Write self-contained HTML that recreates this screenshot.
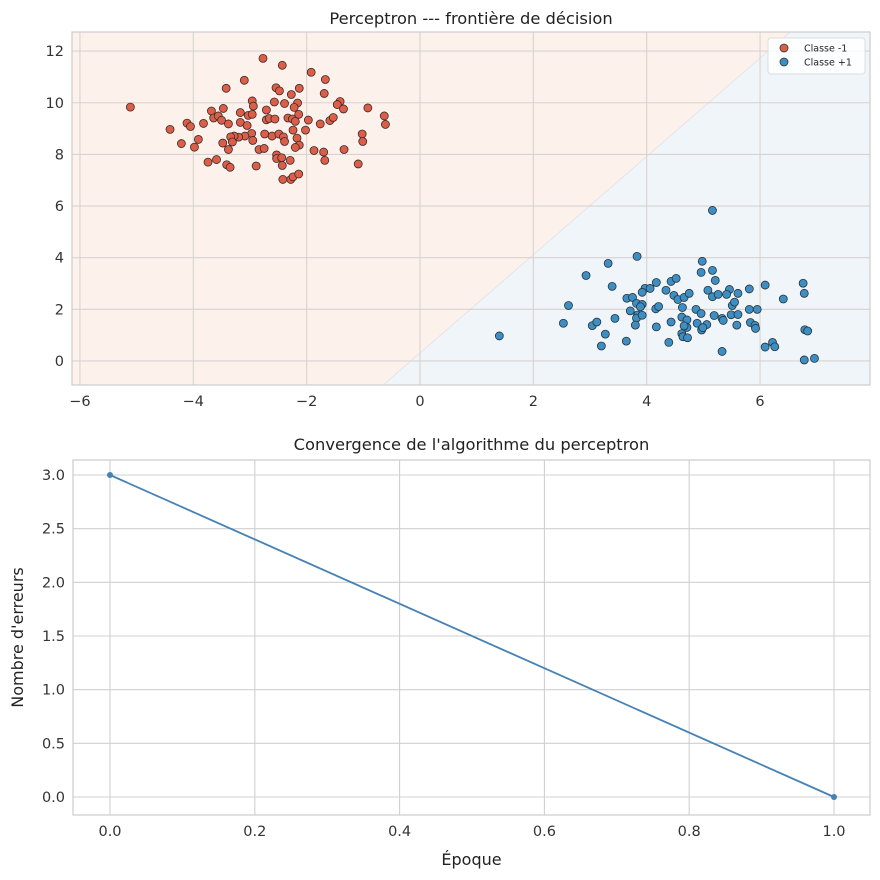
<!DOCTYPE html>
<html><head><meta charset="utf-8"><style>
body{margin:0;background:#fff;}
svg{display:block;font-family:"DejaVu Sans","Liberation Sans",sans-serif;}
</style></head><body>
<svg id="c" width="880" height="880"></svg>
<script>
const redX=[-2.77,-2.43,-1.92,-1.67,-3.10,-3.42,-2.54,-2.48,-2.13,-2.27,-1.69,-2.96,-2.94,-2.57,-2.39,-2.16,-2.22,-1.41,-1.46,-1.35,-0.92,-5.11,-3.68,-3.47,-3.17,-3.03,-2.96,-2.71,-3.64,-3.56,-3.50,-3.38,-3.17,-3.05,-2.71,-2.66,-2.56,-2.33,-2.25,-2.20,-2.14,-1.97,-1.76,-1.59,-1.53,-0.63,-0.61,-4.11,-4.05,-3.82,-4.41,-2.24,-2.02,-2.74,-2.61,-2.49,-2.41,-2.39,-2.17,-2.13,-2.20,-2.97,-2.95,-3.09,-3.20,-3.28,-3.34,-3.31,-3.48,-3.38,-3.91,-4.21,-3.98,-2.84,-2.75,-1.87,-1.70,-1.68,-1.34,-1.02,-1.01,-1.09,-2.53,-2.53,-2.44,-2.29,-2.43,-3.74,-3.59,-3.41,-3.35,-2.89,-2.42,-2.28,-2.24,-2.14];
const redY=[11.72,11.45,11.18,10.9,10.87,10.56,10.58,10.46,10.56,10.32,10.36,10.07,9.87,10.03,9.97,9.99,9.82,10.05,9.93,9.76,9.8,9.83,9.68,9.78,9.62,9.51,9.55,9.72,9.41,9.49,9.32,9.18,9.24,9.12,9.34,9.39,9.37,9.41,9.37,9.28,9.55,9.33,9.18,9.31,9.43,9.49,9.16,9.21,9.08,9.2,8.97,8.94,8.94,8.79,8.71,8.79,8.68,8.5,8.63,8.36,8.27,8.81,8.54,8.71,8.67,8.71,8.68,8.48,8.44,8.19,8.58,8.42,8.28,8.19,8.23,8.15,8.09,7.77,8.19,8.79,8.5,7.63,7.98,7.84,7.87,7.77,7.57,7.7,7.8,7.6,7.5,7.55,7.03,7.03,7.13,7.24];
const blueX=[5.16,3.83,3.32,2.93,4.98,4.96,5.16,5.21,3.39,3.97,4.06,4.17,4.43,4.52,4.34,3.92,3.65,3.75,4.48,4.55,4.66,4.75,5.08,5.16,5.26,5.46,5.41,5.61,5.81,6.09,6.41,6.76,6.78,2.62,3.82,3.92,3.89,3.71,4.16,4.21,4.63,4.87,4.96,5.51,5.55,5.81,5.95,5.49,5.61,5.19,5.33,5.35,2.53,3.04,3.12,3.44,3.84,3.82,3.92,3.80,4.17,4.43,4.62,4.71,4.71,4.66,4.89,5.06,4.97,4.99,4.62,4.64,4.72,5.59,5.83,5.91,5.92,3.27,3.64,3.20,4.39,5.33,6.09,6.22,6.26,6.79,6.84,6.78,6.96,1.40];
const blueY=[5.83,4.05,3.78,3.31,3.86,3.43,3.51,3.12,2.89,2.81,2.81,3.04,3.08,3.2,2.74,2.66,2.43,2.46,2.54,2.38,2.46,2.62,2.74,2.49,2.58,2.77,2.58,2.62,2.79,2.94,2.4,3.01,2.62,2.15,2.23,2.19,2.1,1.94,2.02,2.11,2.07,2.0,1.84,2.15,2.28,2.0,2.0,1.79,1.8,1.76,1.65,1.57,1.46,1.37,1.51,1.65,1.78,1.66,1.77,1.39,1.32,1.51,1.7,1.59,1.3,1.36,1.46,1.41,1.2,1.29,1.06,0.94,0.9,1.39,1.49,1.38,1.26,1.04,0.77,0.58,0.72,0.37,0.54,0.72,0.55,1.21,1.16,0.04,0.1,0.97];
const boundaryX=[-0.65,6.53];
const boundaryY=[-0.93,12.74];
const topXTicks=[-6,-4,-2,0,2,4,6];
const topYTicks=[0,2,4,6,8,10,12];
const epochs=[0,1];
const errors=[3,0];
const botXTicks=[0,0.2,0.4,0.6,0.8,1.0];
const botYTicks=[0,0.5,1.0,1.5,2.0,2.5,3.0];

const NS="http://www.w3.org/2000/svg";
const svg=document.getElementById('c');
function el(tag,attrs,parent,text){const e=document.createElementNS(NS,tag);for(const k in attrs)e.setAttribute(k,attrs[k]);if(text!==undefined)e.textContent=text;(parent||svg).appendChild(e);return e;}

const T={l:72,r:870,t:32,b:385,x0:-6.14,x1:7.94,y0:-0.93,y1:12.74};
const tx=v=>T.l+(v-T.x0)/(T.x1-T.x0)*(T.r-T.l);
const ty=v=>T.b-(v-T.y0)/(T.y1-T.y0)*(T.b-T.t);
const gTop=el('g',{});


let bg=el('rect',{x:T.l,y:T.t,width:T.r-T.l,height:T.b-T.t,fill:'#f0f5fa'},gTop);


const slope=(boundaryY[1]-boundaryY[0])/(boundaryX[1]-boundaryX[0]);
const xAt=y=>boundaryX[0]+(y-boundaryY[0])/slope;
let pts=[[T.x0,T.y0],[xAt(T.y0),T.y0],[xAt(T.y1),T.y1],[T.x0,T.y1]].map(p=>tx(p[0])+','+ty(p[1])).join(' ');
let rr=el('polygon',{points:pts,fill:'#fcf2eb'},gTop);


let bl=el('line',{x1:tx(xAt(T.y0)),y1:ty(T.y0),x2:tx(xAt(T.y1)),y2:ty(T.y1),stroke:'#e4e4e8','stroke-width':1},gTop);


topXTicks.forEach(v=>{const X=tx(v);
 let g=el('line',{x1:X,y1:T.t,x2:X,y2:T.b,stroke:'#d8d2d0','stroke-width':1.1},gTop);
 
 let t=el('text',{x:X,y:T.b+21,'text-anchor':'middle','font-size':14.5,fill:'#333'},gTop,v<0?'\u2212'+(-v):String(v));
 });
topYTicks.forEach(v=>{const Y=ty(v);
 let g=el('line',{x1:T.l,y1:Y,x2:T.r,y2:Y,stroke:'#d8d2d0','stroke-width':1.1},gTop);
 
 let t=el('text',{x:T.l-8,y:Y+5,'text-anchor':'end','font-size':14.5,fill:'#333'},gTop,String(v));
 });
redX.forEach((v,i)=>{let c=el('circle',{cx:tx(v),cy:ty(redY[i]),r:4,fill:'#dc5e48',stroke:'#3a2a28','stroke-width':0.8},gTop);
 });
blueX.forEach((v,i)=>{let c=el('circle',{cx:tx(v),cy:ty(blueY[i]),r:4,fill:'#3d8fc3',stroke:'#26323a','stroke-width':0.8},gTop);
 });
let fr=el('rect',{x:T.l,y:T.t,width:T.r-T.l,height:T.b-T.t,fill:'none',stroke:'#cccccc','stroke-width':1.2},gTop);

let tt=el('text',{x:(T.l+T.r)/2,y:24,'text-anchor':'middle','font-size':16.3,fill:'#222'},gTop,'Perceptron --- frontière de décision');

const lg=el('g',{},gTop);

el('rect',{x:768,y:38,width:97,height:36,rx:3,fill:'#fff','fill-opacity':0.85,stroke:'#ddd'},lg);
[['Classe -1','#dc5e48'],['Classe +1','#3d8fc3']].forEach((e,i)=>{
 const ge=el('g',{},lg);
 
 el('circle',{cx:784,cy:48+i*14,r:4,fill:e[1],stroke:'#333','stroke-width':0.8},ge);
 el('text',{x:804,y:51.5+i*14,'font-size':9.5,fill:'#222'},ge,e[0]);});

const B={l:73,r:870,t:460,b:815};
const bx=v=>110+v*(834-110);
const by=v=>797-v*(797-475)/3;
const gB=el('g',{});

el('rect',{x:B.l,y:B.t,width:B.r-B.l,height:B.b-B.t,fill:'#fff'},gB);
botXTicks.forEach(v=>{const X=bx(v);
 let g=el('line',{x1:X,y1:B.t,x2:X,y2:B.b,stroke:'#d0d0d0','stroke-width':1.1},gB);
 
 let t=el('text',{x:X,y:B.b+21,'text-anchor':'middle','font-size':14.5,fill:'#333'},gB,v.toFixed(1));
 });
botYTicks.forEach(v=>{const Y=by(v);
 let g=el('line',{x1:B.l,y1:Y,x2:B.r,y2:Y,stroke:'#d0d0d0','stroke-width':1.1},gB);
 
 let t=el('text',{x:B.l-8,y:Y+5,'text-anchor':'end','font-size':14.5,fill:'#333'},gB,v.toFixed(1));
 });
let ln=el('polyline',{points:epochs.map((e,i)=>bx(e)+','+by(errors[i])).join(' '),fill:'none',stroke:'#4682b4','stroke-width':1.8},gB);

epochs.forEach((e,i)=>{let c=el('circle',{cx:bx(e),cy:by(errors[i]),r:3,fill:'#4682b4'},gB);
 });
let fb=el('rect',{x:B.l,y:B.t,width:B.r-B.l,height:B.b-B.t,fill:'none',stroke:'#cccccc','stroke-width':1.2},gB);

let t2=el('text',{x:(B.l+B.r)/2,y:450,'text-anchor':'middle','font-size':16.3,fill:'#222'},gB,"Convergence de l'algorithme du perceptron");

let xl=el('text',{x:(B.l+B.r)/2,y:865,'text-anchor':'middle','font-size':16,fill:'#222'},gB,'Époque');

let yl=el('text',{x:23,y:(B.t+B.b)/2,'text-anchor':'middle','font-size':16,fill:'#222',transform:'rotate(-90 23 '+((B.t+B.b)/2)+')'},gB,"Nombre d'erreurs");

</script>
</body></html>
